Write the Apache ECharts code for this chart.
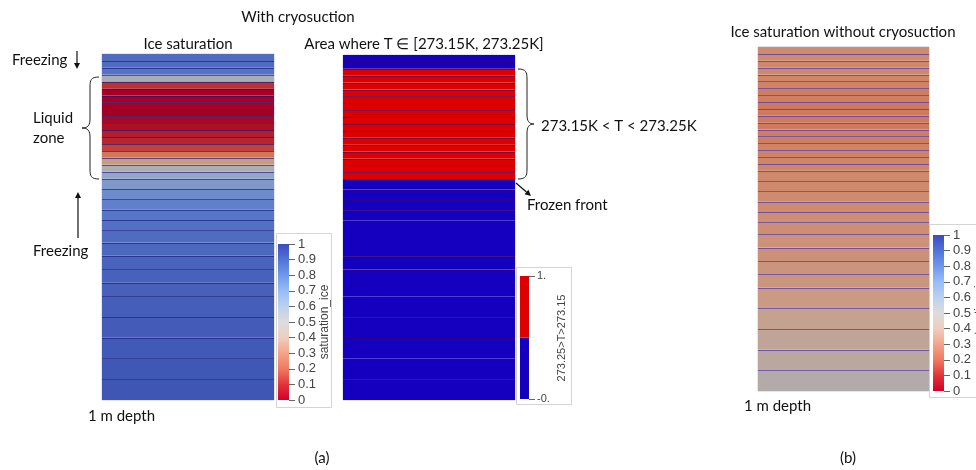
<!DOCTYPE html>
<html>
<head>
<meta charset="utf-8">
<script src="https://cdn.jsdelivr.net/npm/echarts@6/dist/echarts.min.js"></script>
<style>
html,body{margin:0;padding:0;background:#fff;}
#chart{width:976px;height:470px;}
</style>
</head>
<body>
<div id="chart"></div>
<script>
// ---- data ----
// mesh layer boundaries (depth in m, top = 0, bottom = 1 m)
const depthBounds = [0, 0.02, 0.04, 0.06, 0.08, 0.10, 0.12, 0.14, 0.16, 0.18, 0.20, 0.22, 0.24, 0.26, 0.28, 0.30, 0.32, 0.34, 0.36,
  0.39, 0.42, 0.45, 0.48, 0.51, 0.545, 0.583, 0.622, 0.661, 0.70, 0.76, 0.82, 0.88, 0.94, 1.0];
// (a) ice saturation with cryosuction, one value per layer
const iceSatCryo = [0.86, 0.86, 0.83, 0.52, 0.12, 0.0, 0.0, 0.0, 0.0, 0.02, 0.04, 0.07, 0.09, 0.15, 0.27, 0.38, 0.5, 0.6,
  0.66, 0.72, 0.77, 0.81, 0.84, 0.86, 0.88, 0.9, 0.91, 0.92, 0.93, 0.94, 0.95, 0.96, 0.97];
// (a) indicator 273.25 > T > 273.15
const tempWindow = [0, 0, 1, 1, 1, 1, 1, 1, 1, 1, 1, 1, 1, 1, 1, 1, 1, 1,
  0, 0, 0, 0, 0, 0, 0, 0, 0, 0, 0, 0, 0, 0, 0];
// (b) ice saturation without cryosuction
const iceSatNoCryo = [0.33, 0.33, 0.32, 0.32, 0.31, 0.3, 0.29, 0.29, 0.28, 0.28, 0.28, 0.28, 0.29, 0.29, 0.3, 0.3, 0.31, 0.31,
  0.32, 0.32, 0.33, 0.33, 0.34, 0.34, 0.35, 0.35, 0.36, 0.36, 0.38, 0.41, 0.43, 0.45, 0.48];
// colorbar extents
const satBarRange = [[0, 1]];
const tempBarPieces = [[0, 0.5, 0], [0.5, 1, 1]];
const satTicks = { min: 0, max: 1, interval: 0.1 };

function layers(values) {
  return values.map((v, i) => [depthBounds[i], depthBounds[i + 1], v]);
}

const chart = echarts.init(document.getElementById('chart'));

function layerRender(lineColor) {
  return function (params, api) {
    const p0 = api.coord([0, api.value(0)]);
    const p1 = api.coord([1, api.value(1)]);
    const children = [{
      type: 'rect',
      shape: { x: p0[0], y: p0[1], width: p1[0] - p0[0], height: p1[1] - p0[1] },
      style: { fill: api.visual('color') }
    }];
    if (params.dataIndex > 0) {
      children.push({
        type: 'line',
        shape: { x1: p0[0], y1: Math.round(p0[1]) + 0.5, x2: p1[0], y2: Math.round(p0[1]) + 0.5 },
        style: { stroke: lineColor, lineWidth: 1 }
      });
    }
    return { type: 'group', children: children };
  };
}

const satStops = [
  [0, '#d0002a'], [0.1, '#e2353a'], [0.2, '#ef7a62'], [0.3, '#f4a48a'], [0.4, '#efcdbf'],
  [0.5, '#dcdcdc'], [0.6, '#bcd0ee'], [0.7, '#97bcf6'], [0.8, '#6f98ec'], [0.9, '#5173d8'], [1, '#3b4cc0']
];

function gradientBar(params, api) {
  const p0 = api.coord([0, api.value(1)]);
  const p1 = api.coord([1, api.value(0)]);
  return {
    type: 'rect',
    shape: { x: p0[0], y: p0[1], width: p1[0] - p0[0], height: p1[1] - p0[1] },
    style: {
      fill: {
        type: 'linear', x: 0, y: 1, x2: 0, y2: 0,
        colorStops: satStops.map(s => ({ offset: s[0], color: s[1] }))
      }
    }
  };
}
function pieceBar(params, api) {
  const p0 = api.coord([0, api.value(1)]);
  const p1 = api.coord([1, api.value(0)]);
  return {
    type: 'rect',
    shape: { x: p0[0], y: p0[1], width: p1[0] - p0[0], height: p1[1] - p0[1] },
    style: { fill: api.visual('color') }
  };
}

const panelGrid = { show: true, borderColor: '#c9c9da', borderWidth: 1, backgroundColor: 'transparent' };
const grids = [
  Object.assign({ left: 102, top: 54, width: 172, height: 346 }, panelGrid),
  Object.assign({ left: 343, top: 55, width: 172, height: 345 }, panelGrid),
  Object.assign({ left: 758, top: 47, width: 171, height: 344 }, panelGrid),
  { left: 278, top: 244, width: 11, height: 156 },
  { left: 520, top: 276, width: 9, height: 123 },
  { left: 933, top: 235, width: 11, height: 156 }
];
const xAxes = grids.map((g, i) => ({ type: 'value', gridIndex: i, min: 0, max: 1, show: false }));
const panelY = i => ({ type: 'value', gridIndex: i, min: 0, max: 1, inverse: true, show: false });
const barY = (i, extra) => Object.assign({
  type: 'value', gridIndex: i, position: 'right', min: satTicks.min, max: satTicks.max, interval: satTicks.interval,
  axisLine: { show: true, onZero: false, lineStyle: { color: '#777', opacity: 0 } }, splitLine: { show: false },
  axisTick: { show: true, inside: false, length: 6, lineStyle: { color: '#666', width: 1, opacity: 1 } },
  axisLabel: { margin: 9, fontFamily: 'Liberation Sans', fontSize: 13, color: '#444' }
}, extra || {});
const yAxes = [panelY(0), panelY(1), panelY(2), barY(3),
  barY(4, { interval: 1, axisLabel: { margin: 8, fontFamily: 'Liberation Sans', fontSize: 11, color: '#444', formatter: v => (v === 1 ? '1.' : '-0.') } }),
  barY(5)];

const font = '15px Lato';
function txt(x, y, s, align, f) {
  return { type: 'text', x: x, y: y, style: { text: s, font: f || font, fill: '#111', textAlign: align || 'left', textVerticalAlign: 'middle' } };
}
function rtxt(x, y, s, f) {
  return { type: 'text', x: x, y: y, rotation: Math.PI / 2, style: { text: s, font: f, fill: '#444', textAlign: 'center', textVerticalAlign: 'middle' } };
}
function arrow(x1, y1, x2, y2) {
  const a = Math.atan2(y2 - y1, x2 - x1), L = 6, W = 3;
  const bx = x2 - L * Math.cos(a), by = y2 - L * Math.sin(a);
  return [
    { type: 'line', shape: { x1: x1, y1: y1, x2: bx, y2: by }, style: { stroke: '#111', lineWidth: 1.2 } },
    { type: 'polygon', shape: { points: [[x2, y2], [bx + W * Math.sin(a), by - W * Math.cos(a)], [bx - W * Math.sin(a), by + W * Math.cos(a)]] }, style: { fill: '#111' } }
  ];
}
// curly brace: xe = x of the two ends, xm = x of the straight parts, xt = x of the tip
function brace(xe, xm, xt, yTop, yTip, yBot) {
  const s = { fill: 'none', stroke: '#222', lineWidth: 1 };
  const d = xe > xm ? 1 : -1;
  const r = 10;
  return [
    { type: 'bezierCurve', shape: { x1: xe, y1: yTop, cpx1: xm + d * 1, cpy1: yTop, cpx2: xm, cpy2: yTop + 3, x2: xm, y2: yTop + r }, style: s },
    { type: 'line', shape: { x1: xm, y1: yTop + r, x2: xm, y2: yTip - 9 }, style: s },
    { type: 'bezierCurve', shape: { x1: xm, y1: yTip - 9, cpx1: xm, cpy1: yTip - 3, cpx2: xm - d * 2, cpy2: yTip, x2: xt, y2: yTip }, style: s },
    { type: 'bezierCurve', shape: { x1: xt, y1: yTip, cpx1: xm - d * 2, cpy1: yTip, cpx2: xm, cpy2: yTip + 3, x2: xm, y2: yTip + 9 }, style: s },
    { type: 'line', shape: { x1: xm, y1: yTip + 9, x2: xm, y2: yBot - r }, style: s },
    { type: 'bezierCurve', shape: { x1: xm, y1: yBot - r, cpx1: xm, cpy1: yBot - 3, cpx2: xm + d * 1, cpy2: yBot, x2: xe, y2: yBot }, style: s }
  ];
}
const frame = (x, y, w, h) => ({ type: 'rect', shape: { x: x + 0.5, y: y + 0.5, width: w, height: h }, style: { fill: 'none', stroke: '#d4d4d4', lineWidth: 1 }, z: -1 });

const graphics = [
  txt(298, 17, 'With cryosuction', 'center'),
  txt(188, 44, 'Ice saturation', 'center'),
  txt(424, 44, 'Area where T \u2208 [273.15K, 273.25K]', 'center'),
  txt(843, 32, 'Ice saturation without cryosuction', 'center'),
  txt(12, 60, 'Freezing'),
  txt(33, 118, 'Liquid'),
  txt(33, 138, 'zone'),
  txt(33, 251, 'Freezing'),
  txt(88, 416, '1 m depth'),
  txt(744, 406, '1 m depth'),
  txt(541, 126, '273.15K < T < 273.25K'),
  txt(527, 205, 'Frozen front'),
  txt(322, 458, '(a)', 'center'),
  txt(848, 458, '(b)', 'center'),
  frame(276, 233, 55, 174),
  frame(516, 267, 55, 137),
  frame(929, 224, 60, 173),
  rtxt(325, 322, 'saturation_ice', '12px Liberation Sans'),
  rtxt(562, 338, '273.25>T>273.15', '11px Liberation Sans'),
  rtxt(980, 310, 'saturation_ice', '12px Liberation Sans')
].concat(
  brace(99, 90, 82, 77, 128, 179),
  brace(518, 527, 534, 69, 124, 179),
  arrow(77, 51, 77, 69), arrow(78, 238, 78, 192), arrow(516, 183, 531, 196)
);

chart.setOption({
  animation: false,
  backgroundColor: '#fff',
  grid: grids,
  xAxis: xAxes,
  yAxis: yAxes,
  visualMap: [
    {
      type: 'continuous', show: false, min: 0, max: 1, dimension: 2, seriesIndex: [0, 2],
      inRange: { color: ['#a40026', '#b8282e', '#cc5a45', '#d08264', '#c8a08c', '#acaeb2', '#93a6c8', '#7390cc', '#5a78c8', '#4a64bd', '#3a50b0'] }
    },
    {
      type: 'piecewise', show: false, dimension: 2, seriesIndex: [1, 4],
      pieces: [{ lt: 0.5, color: '#1400be' }, { gte: 0.5, color: '#dc0000' }]
    }
  ],
  series: [
    { type: 'custom', xAxisIndex: 0, yAxisIndex: 0, data: layers(iceSatCryo), renderItem: layerRender('rgba(20,20,120,0.6)'), encode: { y: [0, 1] } },
    { type: 'custom', xAxisIndex: 1, yAxisIndex: 1, data: layers(tempWindow), renderItem: layerRender('rgba(60,0,100,0.6)'), encode: { y: [0, 1] } },
    { type: 'custom', xAxisIndex: 2, yAxisIndex: 2, data: layers(iceSatNoCryo), renderItem: layerRender('rgba(85,60,170,0.75)'), encode: { y: [0, 1] } },
    { type: 'custom', xAxisIndex: 3, yAxisIndex: 3, data: satBarRange, renderItem: gradientBar, encode: { y: [0, 1] } },
    { type: 'custom', xAxisIndex: 4, yAxisIndex: 4, data: tempBarPieces, renderItem: pieceBar, encode: { y: [0, 1] } },
    { type: 'custom', xAxisIndex: 5, yAxisIndex: 5, data: satBarRange, renderItem: gradientBar, encode: { y: [0, 1] } }
  ],
  graphic: graphics
});
</script>
</body>
</html>
